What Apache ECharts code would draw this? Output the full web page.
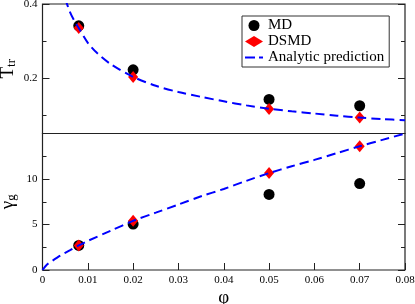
<!DOCTYPE html>
<html><head><meta charset="utf-8">
<script src="https://cdn.jsdelivr.net/npm/echarts@6/dist/echarts.min.js"></script>
<style>html,body{margin:0;padding:0;background:#fff}#c{width:415px;height:304px}</style>
</head><body><div id="c"></div>
<script>
// ---- data ----
const phiPts = [0.008, 0.02, 0.05, 0.07];
const mdT = [0.341, 0.222, 0.142, 0.125];
const dsmdT = [0.335, 0.203, 0.116, 0.093];
const mdGamma = [2.7, 5.05, 8.3, 9.5];
const dsmdGamma = [2.7, 5.4, 10.65, 13.6];

const curvePhiT = [0.005, 0.006, 0.007, 0.008, 0.01, 0.012, 0.015, 0.02, 0.025, 0.03, 0.035, 0.04, 0.045, 0.05, 0.055, 0.06, 0.065, 0.07, 0.075, 0.08];
const curveT = [0.415, 0.38, 0.355, 0.335, 0.295, 0.268, 0.238, 0.203, 0.179, 0.162, 0.149, 0.137, 0.126, 0.117, 0.110, 0.104, 0.098, 0.093, 0.089, 0.086];
const curvePhiG = [0, 0.001, 0.002, 0.004, 0.006, 0.008, 0.01, 0.015, 0.02, 0.025, 0.03, 0.035, 0.04, 0.045, 0.05, 0.055, 0.06, 0.065, 0.07, 0.075, 0.08];
const curveG = [0, 0.6, 0.95, 1.6, 2.15, 2.7, 3.2, 4.3, 5.4, 6.3, 7.2, 8.1, 8.9, 9.8, 10.65, 11.4, 12.1, 12.85, 13.6, 14.3, 15.0];

const xTicks = [0, 0.01, 0.02, 0.03, 0.04, 0.05, 0.06, 0.07, 0.08];
const tMajorTicks = [0.2, 0.4];
const tMinorTicks = [0.1, 0.3];
const gLabels = [0, 5, 10];

const pairs = (xs, ys) => xs.map((x, i) => [x, ys[i]]);
const FONT = 'Liberation Serif';
const AX = '#222';

const chart = echarts.init(document.getElementById('c'), null, {renderer: 'canvas'});
const tickLbl = {color: '#000', fontFamily: FONT, fontSize: 11};
const dashIcon = 'path://M0,0H10V2H0Z M14,0H18V2H14Z';
const nameRich = {m: {fontFamily: FONT, fontSize: 19, color: '#000'}, s: {fontFamily: FONT, fontSize: 13, color: '#000', padding: [7, 0, 0, 0]}};

chart.setOption({
  animation: false,
  backgroundColor: '#fff',
  grid: [
    {left: 42.5, right: 10, top: 4, height: 129.5, show: true, borderColor: AX, borderWidth: 1.2, containLabel: false, outerBoundsMode: 'none'},
    {left: 42.5, right: 10, top: 133.5, height: 136.5, show: true, borderColor: AX, borderWidth: 1.2, containLabel: false, outerBoundsMode: 'none'}
  ],
  xAxis: [
    {gridIndex: 0, type: 'value', min: 0, max: 0.08, interval: 0.01, axisLine: {show: false}, axisTick: {show: false}, axisLabel: {show: false}, splitLine: {show: false}},
    {gridIndex: 1, type: 'value', min: 0, max: 0.08, interval: 0.01,
      axisLine: {show: false}, splitLine: {show: false},
      axisTick: {inside: true, length: 7, lineStyle: {color: AX, width: 1}},
      axisLabel: Object.assign({margin: 5, formatter: v => v === 0 ? '0' : v.toFixed(2)}, tickLbl),
      name: 'φ', nameLocation: 'middle', nameGap: 19, nameMoveOverlap: false,
      nameTextStyle: {fontFamily: FONT, fontSize: 19, color: '#000'}
    }
  ],
  yAxis: [
    {gridIndex: 0, type: 'value', min: 0.05, max: 0.4, position: 'left',
      axisLine: {show: false}, splitLine: {show: false},
      axisTick: {inside: true, length: 7, customValues: tMajorTicks, lineStyle: {color: AX}},
      axisLabel: Object.assign({margin: 5, customValues: tMajorTicks, formatter: v => v.toFixed(1)}, tickLbl),
      name: '{m|T}{s|tr}', nameLocation: 'middle', nameRotate: 90, nameGap: 24, nameMoveOverlap: false,
      nameTextStyle: {rich: nameRich}
    },
    {gridIndex: 0, type: 'value', min: 0.05, max: 0.4, position: 'left',
      axisLine: {show: false}, splitLine: {show: false}, axisLabel: {show: false},
      axisTick: {inside: true, length: 4, customValues: tMinorTicks, lineStyle: {color: AX}}},
    {gridIndex: 0, type: 'value', min: 0.05, max: 0.4, position: 'right',
      axisLine: {show: false}, splitLine: {show: false}, axisLabel: {show: false},
      axisTick: {inside: true, length: 7, customValues: tMajorTicks, lineStyle: {color: AX}}},
    {gridIndex: 0, type: 'value', min: 0.05, max: 0.4, position: 'right',
      axisLine: {show: false}, splitLine: {show: false}, axisLabel: {show: false},
      axisTick: {inside: true, length: 4, customValues: tMinorTicks, lineStyle: {color: AX}}},
    {gridIndex: 1, type: 'value', min: 0, max: 15, interval: 5, position: 'left',
      axisLine: {show: false}, splitLine: {show: false},
      axisTick: {inside: true, length: 7, lineStyle: {color: AX}},
      minorTick: {show: true, splitNumber: 2, length: 4, lineStyle: {color: AX}},
      axisLabel: Object.assign({margin: 5, customValues: gLabels}, tickLbl),
      name: '{m|γ}{s|g}', nameLocation: 'middle', nameRotate: 90, nameGap: 24, nameMoveOverlap: false,
      nameTextStyle: {rich: nameRich}
    },
    {gridIndex: 1, type: 'value', min: 0, max: 15, interval: 5, position: 'right',
      axisLine: {show: false}, splitLine: {show: false}, axisLabel: {show: false},
      axisTick: {inside: true, length: 7, lineStyle: {color: AX}},
      minorTick: {show: true, splitNumber: 2, length: 4, lineStyle: {color: AX}}}
  ],
  legend: {
    left: 242, top: 16, orient: 'vertical',
    padding: [2, 5, 2, 3], itemGap: 1, itemWidth: 18, itemHeight: 11,
    borderColor: '#333', borderWidth: 1,
    textStyle: {fontFamily: FONT, fontSize: 15, color: '#000'},
    data: [
      {name: 'MD', icon: 'circle', itemStyle: {color: '#000', opacity: 1}},
      {name: 'DSMD', icon: 'diamond', itemStyle: {color: '#ff0000', opacity: 1}},
      {name: 'Analytic prediction', icon: dashIcon, itemStyle: {color: '#0000ff', opacity: 1}}
    ]
  },
  series: [
    {name: 'MD', type: 'scatter', xAxisIndex: 0, yAxisIndex: 0, symbol: 'circle', symbolSize: 11, itemStyle: {color: '#000', opacity: 1}, data: pairs(phiPts, mdT), z: 2},
    {name: 'DSMD', type: 'scatter', xAxisIndex: 0, yAxisIndex: 0, symbol: 'diamond', symbolSize: [10, 12], itemStyle: {color: '#ff0000', opacity: 1}, data: pairs(phiPts, dsmdT), z: 3},
    {name: 'MD', type: 'scatter', xAxisIndex: 1, yAxisIndex: 4, symbol: 'circle', symbolSize: 11, itemStyle: {color: '#000', opacity: 1}, data: pairs(phiPts, mdGamma), z: 2},
    {name: 'DSMD', type: 'scatter', xAxisIndex: 1, yAxisIndex: 4, symbol: 'diamond', symbolSize: [10, 12], itemStyle: {color: '#ff0000', opacity: 1}, data: pairs(phiPts, dsmdGamma), z: 3},
    {name: 'Analytic prediction', type: 'line', xAxisIndex: 0, yAxisIndex: 0, showSymbol: false, symbol: 'none', smooth: 0.3,
      lineStyle: {color: '#0000ff', width: 2, type: [9, 5]}, itemStyle: {color: '#0000ff'}, data: pairs(curvePhiT, curveT), z: 4},
    {name: 'Analytic prediction', type: 'line', xAxisIndex: 1, yAxisIndex: 4, showSymbol: false, symbol: 'none', smooth: 0.3,
      lineStyle: {color: '#0000ff', width: 2, type: [9, 5]}, itemStyle: {color: '#0000ff'}, data: pairs(curvePhiG, curveG), z: 4}
  ]
});
</script></body></html>
